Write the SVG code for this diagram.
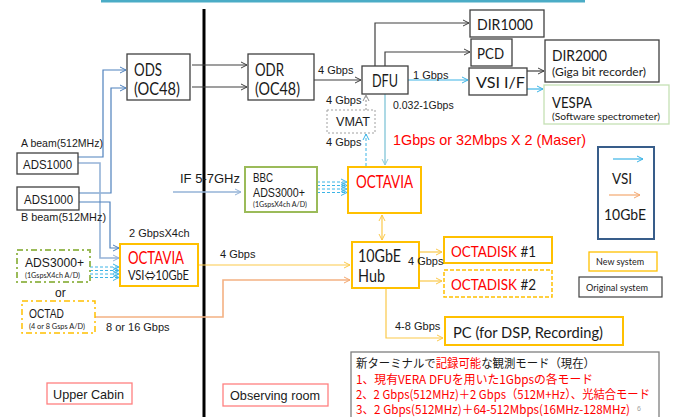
<svg xmlns="http://www.w3.org/2000/svg" width="675" height="417" viewBox="0 0 675 417">
<defs>
<marker id="ad" markerWidth="8" markerHeight="8" refX="7" refY="4" orient="auto" markerUnits="userSpaceOnUse"><path d="M1,1 L7,4 L1,7" fill="none" stroke="#404040" stroke-width="1"/></marker>
<marker id="ab" markerWidth="8" markerHeight="8" refX="7" refY="4" orient="auto" markerUnits="userSpaceOnUse"><path d="M1,1 L7,4 L1,7" fill="none" stroke="#4f81bd" stroke-width="1"/></marker>
<marker id="alb" markerWidth="8" markerHeight="8" refX="7" refY="4" orient="auto" markerUnits="userSpaceOnUse"><path d="M1,1 L7,4 L1,7" fill="none" stroke="#95b3d7" stroke-width="1"/></marker>
<marker id="ac" markerWidth="8" markerHeight="8" refX="7" refY="4" orient="auto" markerUnits="userSpaceOnUse"><path d="M1,1 L7,4 L1,7" fill="none" stroke="#3cb4e6" stroke-width="1"/></marker>
<marker id="asb" markerWidth="8" markerHeight="8" refX="7" refY="4" orient="auto" markerUnits="userSpaceOnUse"><path d="M1,1 L7,4 L1,7" fill="none" stroke="#92cddc" stroke-width="1"/></marker>
<marker id="ay" markerWidth="8" markerHeight="8" refX="7" refY="4" orient="auto" markerUnits="userSpaceOnUse"><path d="M1,1 L7,4 L1,7" fill="none" stroke="#fbc94a" stroke-width="1"/></marker>
<marker id="ays" markerWidth="8" markerHeight="8" refX="1" refY="4" orient="auto" markerUnits="userSpaceOnUse"><path d="M7,1 L1,4 L7,7" fill="none" stroke="#fbc94a" stroke-width="1"/></marker>
<marker id="ao" markerWidth="8" markerHeight="8" refX="7" refY="4" orient="auto" markerUnits="userSpaceOnUse"><path d="M1,1 L7,4 L1,7" fill="none" stroke="#f4a870" stroke-width="1"/></marker>
<marker id="ag" markerWidth="8" markerHeight="8" refX="7" refY="4" orient="auto" markerUnits="userSpaceOnUse"><path d="M1,1 L7,4 L1,7" fill="none" stroke="#909090" stroke-width="1"/></marker>
</defs>
<style>
text{font-family:"Liberation Sans",Arial,"Noto Sans CJK JP",sans-serif;fill:#1a1a1a}
.c{font-family:Lato,"Noto Sans","Noto Sans CJK JP",sans-serif}
.j{font-family:"Noto Sans CJK JP",sans-serif}
.box{fill:#fff;stroke:#404040;stroke-width:1.3}
.nb{fill:#fff;stroke:#ffc000;stroke-width:2}
.gb{fill:#fff;stroke:#9bbb59;stroke-width:2}
.red{fill:#ff0000}
.dk{fill:none;stroke:#404040;stroke-width:1.2}
.bl{fill:none;stroke:#4f81bd;stroke-width:1.2}
.lb{fill:none;stroke:#95b3d7;stroke-width:1.6}
.cy{fill:none;stroke:#3cb4e6;stroke-width:1.2}
.cyd{fill:none;stroke:#3cb4e6;stroke-width:1;stroke-dasharray:3,2}
.yl{fill:none;stroke:#fbc94a;stroke-width:1.2}
.or{fill:none;stroke:#f4b183;stroke-width:1.6}
</style>
<rect width="675" height="417" fill="#fff"/>
<line x1="101" y1="1" x2="585" y2="1" stroke="#4bacc6" stroke-width="3"/>
<line x1="204" y1="9" x2="204" y2="417" stroke="#000" stroke-width="3"/>

<g id="connectors">
<path class="dk" d="M192,65 H247" marker-end="url(#ad)"/>
<path class="dk" d="M192,87 H247" marker-end="url(#ad)"/>
<path class="bl" d="M78,157 H103 V70 H126" marker-end="url(#ab)"/>
<path class="bl" d="M79,193 H111 V88 H126" marker-end="url(#ab)"/>
<path class="lb" d="M78,163 H100 V258 H119" marker-end="url(#alb)"/>
<path class="bl" d="M79,202 H110 V248 H119" marker-end="url(#ab)"/>
<path class="cyd" d="M90,267 H119 M90,270.5 H119 M90,274 H119 M90,277.5 H119"/>
<path d="M113,264 L119,267 L113,270 M113,267.5 L119,270.5 L113,273.5 M113,271 L119,274 L113,277 M113,274.5 L119,277.5 L113,280.5" fill="none" stroke="#3cb4e6" stroke-width="1"/>
<path class="or" d="M95,317 H223 V280 H350" marker-end="url(#ao)"/>
<path class="yl" d="M198,265 H350" marker-end="url(#ay)"/>
<path class="dk" d="M314,80 H361" marker-end="url(#ad)"/>
<path class="dk" d="M375,66 V23 H469" marker-end="url(#ad)"/>
<path class="dk" d="M385,66 V52 H470" marker-end="url(#ad)"/>
<path class="cy" d="M408,80 H468" marker-end="url(#ac)"/>
<path class="dk" d="M527,71 H544" marker-end="url(#ad)"/>
<path class="cy" d="M527,89 H543" marker-end="url(#ac)"/>
<path fill="none" stroke="#92cddc" stroke-width="1.5" d="M385,94 V165" marker-end="url(#asb)"/>
<path fill="none" stroke="#909090" stroke-width="1" stroke-dasharray="2,2" d="M366,110 V95" marker-end="url(#ag)"/>
<path class="cyd" d="M366,166 V134" marker-end="url(#ac)"/>
<path fill="none" stroke="#95b3d7" stroke-width="1.6" d="M173,192 H241" marker-end="url(#alb)"/>
<path class="cyd" d="M317,182 H347 M317,185.5 H347 M317,189 H347 M317,192.5 H347"/>
<path d="M341,179 L347,182 L341,185 M341,182.5 L347,185.5 L341,188.5 M341,186 L347,189 L341,192 M341,189.5 L347,192.5 L341,195.5" fill="none" stroke="#3cb4e6" stroke-width="1"/>
<path class="yl" d="M382,215 V240" marker-start="url(#ays)" marker-end="url(#ay)"/>
<path class="yl" d="M419,252 H442" marker-end="url(#ay)"/>
<path class="yl" d="M419,281 H442" marker-end="url(#ay)"/>
<path class="yl" d="M386,288 V338 H443" marker-end="url(#ay)"/>
</g>

<g id="ods"><rect class="box" x="127" y="54" width="63" height="46"/><text class="c" x="134" y="76" font-size="17" textLength="28" lengthAdjust="spacingAndGlyphs">ODS</text><text class="c" x="134" y="95" font-size="17" textLength="46" lengthAdjust="spacingAndGlyphs">(OC48)</text></g>
<g id="odr"><rect class="box" x="248" y="54" width="66" height="46"/><text class="c" x="255" y="76" font-size="17" textLength="29" lengthAdjust="spacingAndGlyphs">ODR</text><text class="c" x="255" y="95" font-size="17" textLength="45" lengthAdjust="spacingAndGlyphs">(OC48)</text></g>
<g id="ads1000a"><rect class="box" x="17" y="153" width="61" height="21"/><text x="23" y="169" font-size="13" textLength="49" lengthAdjust="spacingAndGlyphs">ADS1000</text></g>
<g id="ads1000b"><rect class="box" x="17" y="187" width="62" height="23"/><text x="24" y="204" font-size="13" textLength="49" lengthAdjust="spacingAndGlyphs">ADS1000</text></g>
<g id="octavia1"><rect class="nb" x="120" y="244" width="78" height="42"/><text class="c red" x="128" y="264" font-size="17" textLength="56" lengthAdjust="spacingAndGlyphs">OCTAVIA</text><text class="c" x="128" y="280" font-size="13" textLength="61" lengthAdjust="spacingAndGlyphs">VSI⇔10GbE</text></g>
<g id="ads3000a"><rect fill="#fff" stroke="#9bbb59" stroke-width="2" stroke-dasharray="6,3,2,3" x="17" y="250" width="73" height="32"/><text x="25" y="267" font-size="12.5" textLength="59" lengthAdjust="spacingAndGlyphs">ADS3000+</text><text class="c" x="25" y="278" font-size="7" textLength="55" lengthAdjust="spacingAndGlyphs">(1GspsX4ch A/D)</text></g>
<g id="octad"><rect fill="#fff" stroke="#ffc000" stroke-width="1.5" stroke-dasharray="6,3,2,3" x="22" y="301" width="73" height="32"/><text x="29" y="318" font-size="12.5" textLength="35" lengthAdjust="spacingAndGlyphs">OCTAD</text><text class="c" x="29" y="329" font-size="7" textLength="56" lengthAdjust="spacingAndGlyphs">(4 or 8 Gsps A/D)</text></g>
<g id="uppercabin"><rect fill="#fff" stroke="#ff8080" stroke-width="1.3" x="47" y="383" width="85" height="21"/><text x="53" y="399" font-size="13" textLength="71" lengthAdjust="spacingAndGlyphs">Upper Cabin</text></g>
<g id="observing"><rect fill="#fff" stroke="#ff8080" stroke-width="1.3" x="223" y="384" width="105" height="22"/><text x="230" y="400" font-size="13" textLength="90" lengthAdjust="spacingAndGlyphs">Observing room</text></g>

<g id="dir1000"><rect class="box" x="470" y="10" width="74" height="27"/><text class="c" x="477" y="30" font-size="16" textLength="56" lengthAdjust="spacingAndGlyphs">DIR1000</text></g>
<g id="pcd"><rect class="box" x="471" y="39" width="41" height="27"/><text class="c" x="477" y="59" font-size="16" textLength="27" lengthAdjust="spacingAndGlyphs">PCD</text></g>
<g id="dir2000"><rect class="box" x="545" y="40" width="114" height="42"/><text class="c" x="552" y="61" font-size="16" textLength="55" lengthAdjust="spacingAndGlyphs">DIR2000</text><text class="c" x="552" y="76" font-size="11" textLength="94" lengthAdjust="spacingAndGlyphs">(Giga bit recorder)</text></g>
<g id="dfu"><rect class="box" x="362" y="66" width="46" height="28"/><text class="c" x="372" y="87" font-size="17" textLength="26" lengthAdjust="spacingAndGlyphs">DFU</text></g>
<g id="vsiif"><rect class="box" x="469" y="68" width="58" height="27"/><text class="c" x="476" y="88" font-size="16" textLength="49" lengthAdjust="spacingAndGlyphs">VSI I/F</text></g>
<g id="vespa"><rect fill="#fff" stroke="#c5e0b4" stroke-width="1.3" x="544" y="85" width="125" height="39"/><text class="c" x="552" y="108" font-size="16" textLength="40" lengthAdjust="spacingAndGlyphs">VESPA</text><text class="c" x="552" y="120" font-size="10" textLength="108" lengthAdjust="spacingAndGlyphs">(Software spectrometer)</text></g>
<g id="vmat"><rect fill="#fff" stroke="#a0a0a0" stroke-width="1" stroke-dasharray="2,2" x="327" y="110" width="48" height="23"/><text x="336" y="126" font-size="12" textLength="34" lengthAdjust="spacingAndGlyphs">VMAT</text></g>
<g id="octavia2"><rect class="nb" x="348" y="167" width="73" height="46"/><text class="c red" x="356" y="188" font-size="17" textLength="57" lengthAdjust="spacingAndGlyphs">OCTAVIA</text></g>
<g id="bbc"><rect class="gb" x="245" y="167" width="72" height="45"/><text x="253" y="182" font-size="12" textLength="20" lengthAdjust="spacingAndGlyphs">BBC</text><text x="253" y="197" font-size="12.5" textLength="52" lengthAdjust="spacingAndGlyphs">ADS3000+</text><text class="c" x="253" y="207" font-size="7" textLength="54" lengthAdjust="spacingAndGlyphs">(1GspsX4ch A/D)</text></g>
<g id="hub"><rect class="nb" x="352" y="242" width="67" height="46"/><text class="c" x="358" y="262" font-size="17" textLength="43" lengthAdjust="spacingAndGlyphs">10GbE</text><text class="c" x="358" y="282" font-size="17" textLength="27" lengthAdjust="spacingAndGlyphs">Hub</text></g>
<g id="octadisk1"><rect class="nb" x="444" y="237" width="108" height="26"/><text class="c" x="451" y="257" font-size="16" textLength="85" lengthAdjust="spacingAndGlyphs"><tspan style="fill:#ff0000">OCTADISK</tspan> #1</text></g>
<g id="octadisk2"><rect fill="#fff" stroke="#ffc000" stroke-width="1.5" stroke-dasharray="4,2" x="444" y="270" width="108" height="27"/><text class="c" x="451" y="290" font-size="16" textLength="85" lengthAdjust="spacingAndGlyphs"><tspan style="fill:#ff0000">OCTADISK</tspan> #2</text></g>
<g id="pc"><rect class="nb" x="445" y="317" width="178" height="28"/><text class="c" x="453" y="338" font-size="16" textLength="150" lengthAdjust="spacingAndGlyphs">PC (for DSP, Recording)</text></g>
<g id="modes"><rect fill="#fff" stroke="#7f7f7f" stroke-width="1.3" x="351" y="352" width="308" height="70"/>
<text class="j" x="356" y="368" font-size="12" textLength="239" lengthAdjust="spacingAndGlyphs">新ターミナルで<tspan style="fill:#ff0000">記録可能</tspan>な観測モード（現在）</text>
<text class="j" x="356" y="384" font-size="12" style="fill:#ff0000" textLength="237" lengthAdjust="spacingAndGlyphs">1、現有VERA  DFUを用いた1Gbpsの各モード</text>
<text class="j" x="356" y="399" font-size="12" style="fill:#ff0000" textLength="294" lengthAdjust="spacingAndGlyphs">2、2 Gbps(512MHz)＋2 Gbps（512M+Hz）、光結合モード</text>
<text class="j" x="356" y="414" font-size="12" style="fill:#ff0000" textLength="274" lengthAdjust="spacingAndGlyphs">3、2 Gbps(512MHz)＋64-512Mbps(16MHz-128MHz)</text>
<text x="637" y="411" font-size="7" style="fill:#a0a0a0">6</text>
</g>
<g id="legend"><rect fill="#fff" stroke="#385d8a" stroke-width="2" x="598" y="147" width="56" height="92"/><text class="c" x="612" y="184" font-size="16" textLength="20" lengthAdjust="spacingAndGlyphs">VSI</text><text class="c" x="604" y="220" font-size="16" textLength="42" lengthAdjust="spacingAndGlyphs">10GbE</text>
<path class="cy" d="M613,159 H643" marker-end="url(#ac)"/><path fill="none" stroke="#f4a870" stroke-width="1.2" d="M609,195 H640" marker-end="url(#ao)"/></g>
<g id="newsystem"><rect fill="#fff" stroke="#ffc000" stroke-width="1.3" x="589" y="252" width="68" height="19"/><text class="c" x="596" y="265" font-size="9" textLength="48" lengthAdjust="spacingAndGlyphs">New system</text></g>
<g id="origsystem"><rect fill="#fff" stroke="#404040" stroke-width="1.2" x="579" y="277" width="83" height="20"/><text class="c" x="586" y="291" font-size="9" textLength="62" lengthAdjust="spacingAndGlyphs">Original system</text></g>

<g id="labels">
<text x="21" y="147" font-size="11" textLength="82" lengthAdjust="spacingAndGlyphs">A beam(512MHz)</text>
<text x="21" y="221" font-size="11" textLength="85" lengthAdjust="spacingAndGlyphs">B beam(512MHz)</text>
<text x="129" y="237" font-size="11">2 GbpsX4ch</text>
<text x="55" y="297" font-size="12">or</text>
<text x="106" y="331" font-size="11">8 or 16 Gbps</text>
<text x="220" y="258" font-size="11">4 Gbps</text>
<text x="318" y="74" font-size="11">4 Gbps</text>
<text x="413" y="79" font-size="11">1 Gbps</text>
<text x="393" y="109" font-size="10.5">0.032-1Gbps</text>
<text x="326" y="104" font-size="11">4 Gbps</text>
<text x="326" y="146" font-size="11">4 Gbps</text>
<text x="393" y="145" font-size="15" class="red" textLength="193" lengthAdjust="spacingAndGlyphs">1Gbps or 32Mbps X 2 (Maser)</text>
<text x="180" y="183" font-size="13">IF 5-7GHz</text>
<text x="408" y="265" font-size="11">4 Gbps</text>
<text x="395" y="330" font-size="11">4-8 Gbps</text>
</g>
</svg>
